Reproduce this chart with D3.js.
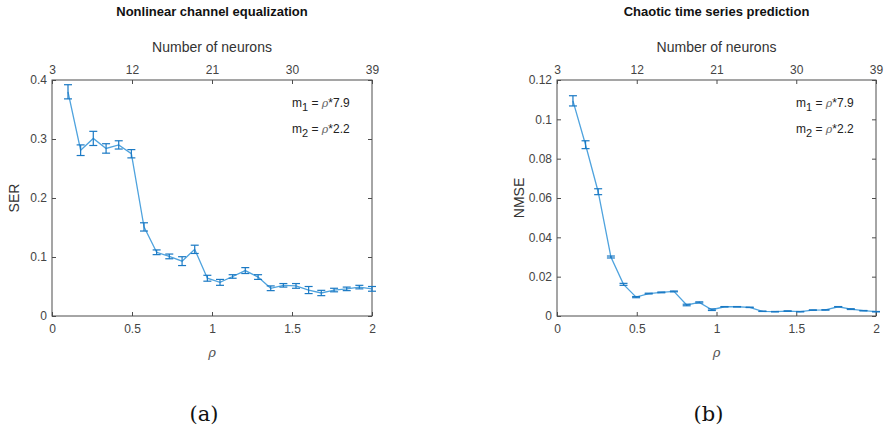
<!DOCTYPE html>
<html>
<head>
<meta charset="utf-8">
<script src="https://cdn.jsdelivr.net/npm/d3@7"></script>
<style>
  html, body { margin: 0; padding: 0; background: #fff; }
  svg { display: block; }
</style>
</head>
<body>
<svg id="fig" width="886" height="435" font-family="Liberation Sans, Arial, sans-serif"></svg>
<script>
// Reservoir size parameter rho (shared by both experiments)
const rho = [0.1, 0.179, 0.258, 0.338, 0.417, 0.496, 0.575, 0.654, 0.733, 0.813,
             0.892, 0.971, 1.05, 1.129, 1.208, 1.288, 1.367, 1.446, 1.525, 1.604,
             1.683, 1.763, 1.842, 1.921, 2.0];

// (a) Nonlinear channel equalization: symbol error rate, mean and error half-width
const ser    = [0.380, 0.281, 0.301, 0.284, 0.290, 0.275, 0.151, 0.108, 0.101, 0.093,
                0.113, 0.064, 0.057, 0.067, 0.077, 0.066, 0.047, 0.052, 0.051, 0.044,
                0.039, 0.044, 0.046, 0.049, 0.046];
const serErr = [0.012, 0.009, 0.012, 0.008, 0.007, 0.007, 0.007, 0.004, 0.004, 0.0075,
                0.007, 0.005, 0.005, 0.003, 0.005, 0.004, 0.004, 0.003, 0.004, 0.006,
                0.0045, 0.003, 0.003, 0.003, 0.004];

// (b) Chaotic time series prediction: normalized mean squared error
const nmse    = [0.1094, 0.0871, 0.0632, 0.0300, 0.0161, 0.0096, 0.0114, 0.0120, 0.0125, 0.0056,
                 0.0069, 0.0032, 0.0047, 0.0047, 0.0044, 0.0024, 0.0022, 0.0025, 0.0022, 0.0030,
                 0.0031, 0.0047, 0.0035, 0.0027, 0.0022];
const nmseErr = [0.0026, 0.0020, 0.0015, 0.0005, 0.0005, 0.0003, 0.0002, 0.0002, 0.0002, 0.0004,
                 0.0003, 0.0004, 0.0001, 0.0001, 0.0001, 0.0001, 0.0001, 0.0001, 0.0001, 0.0001,
                 0.0001, 0.0001, 0.0002, 0.0001, 0.0001];

// Axis ticks
const rhoTicks    = [0, 0.5, 1, 1.5, 2];
const neuronTicks = [3, 12, 21, 30, 39];
const serTicks    = [0, 0.1, 0.2, 0.3, 0.4];
const nmseTicks   = [0, 0.02, 0.04, 0.06, 0.08, 0.1, 0.12];

const svg = d3.select("#fig");
const FONT = "Liberation Sans, Arial, sans-serif";
const AXIS = "#4d4d4d", LABEL = "#444", LINE = "#4fa3de", BAR = "#1a79c4";

function panel(opt) {
  const { left, right, top, bottom, y, yErr, yMax, yTicks, yLabel, title, tag } = opt;
  const g = svg.append("g");
  const x = d3.scaleLinear().domain([0, 2]).range([left, right]);
  const xn = d3.scaleLinear().domain([3, 39]).range([left, right]);
  const ys = d3.scaleLinear().domain([0, yMax]).range([bottom, top]);
  const tl = 4;

  const style = sel => {
    sel.attr("font-family", FONT).attr("font-size", 12);
    sel.select(".domain").remove();
    sel.selectAll(".tick line").attr("stroke", AXIS);
    sel.selectAll(".tick text").attr("fill", LABEL);
  };

  // bottom rho axis, ticks pointing inward
  g.append("g").attr("transform", `translate(0,${bottom})`)
    .call(d3.axisBottom(x).tickValues(rhoTicks).tickFormat(d3.format("")).tickSizeInner(-tl).tickSizeOuter(0).tickPadding(8))
    .call(style);
  // top neuron-count axis
  g.append("g").attr("transform", `translate(0,${top})`)
    .call(d3.axisTop(xn).tickValues(neuronTicks).tickSizeInner(-tl).tickSizeOuter(0).tickPadding(6))
    .call(style);
  // left value axis
  g.append("g").attr("transform", `translate(${left},0)`)
    .call(d3.axisLeft(ys).tickValues(yTicks).tickFormat(d3.format("")).tickSizeInner(-tl).tickSizeOuter(0).tickPadding(5))
    .call(style);
  // right mirror ticks
  g.append("g").attr("transform", `translate(${right},0)`)
    .call(d3.axisRight(ys).tickValues(yTicks).tickFormat("").tickSizeInner(-tl).tickSizeOuter(0))
    .call(style);

  // frame
  g.append("rect").attr("x", left).attr("y", top).attr("width", right - left).attr("height", bottom - top)
    .attr("fill", "none").attr("stroke", AXIS).attr("stroke-width", 1);

  // data line
  const pts = rho.map((r, i) => ({ r, v: y[i], e: yErr[i] }));
  g.append("path").datum(pts)
    .attr("fill", "none").attr("stroke", LINE).attr("stroke-width", 1.3)
    .attr("d", d3.line().x(d => x(d.r)).y(d => ys(d.v)));

  // error bars
  const cap = 4;
  const eb = g.append("g").attr("stroke", BAR).attr("stroke-width", 1.2).attr("fill", "none");
  pts.forEach(d => {
    const px = x(d.r), y0 = ys(d.v - d.e), y1 = ys(d.v + d.e);
    eb.append("line").attr("x1", px).attr("x2", px).attr("y1", y0).attr("y2", y1);
    eb.append("line").attr("x1", px - cap).attr("x2", px + cap).attr("y1", y0).attr("y2", y0);
    eb.append("line").attr("x1", px - cap).attr("x2", px + cap).attr("y1", y1).attr("y2", y1);
  });

  const cx = (left + right) / 2;
  // titles and labels
  g.append("text").attr("x", cx).attr("y", 16).attr("text-anchor", "middle")
    .style("font-size", "13px").style("font-weight", "bold").attr("fill", "#111").text(title);
  g.append("text").attr("x", cx).attr("y", 52).attr("text-anchor", "middle")
    .style("font-size", "14px").attr("fill", "#333").text("Number of neurons");
  g.append("text").attr("x", cx).attr("y", 357).attr("text-anchor", "middle")
    .style("font-size", "13px").style("font-style", "italic").style("font-family", "DejaVu Serif, serif")
    .attr("fill", "#555").text("ρ");
  g.append("text").attr("transform", `translate(${left - 33},${(top + bottom) / 2}) rotate(-90)`)
    .attr("text-anchor", "middle").style("font-size", "14px").attr("fill", "#333").text(yLabel);

  // annotation of the m1 / m2 scaling
  const ann = [["1", "7.9", 107], ["2", "2.2", 133]];
  ann.forEach(([s, k, by]) => {
    const t = g.append("text").attr("x", right - 80).attr("y", by).style("font-size", "12px").attr("fill", "#222");
    t.append("tspan").text("m");
    t.append("tspan").attr("dy", 4).style("font-size", "11px").text(s);
    t.append("tspan").attr("dy", -4).text(" = ");
    t.append("tspan").style("font-style", "italic").style("font-family", "DejaVu Serif, serif").attr("fill", "#666").style("font-size", "11px").text("ρ");
    t.append("tspan").text("*" + k);
  });

  // panel tag
  g.append("text").attr("x", cx - 8).attr("y", 421).attr("text-anchor", "middle")
    .style("font-family", "DejaVu Serif, Liberation Serif, serif").style("font-size", "21px")
    .attr("fill", "#111").text(tag);
}

panel({ left: 52, right: 372, top: 80, bottom: 316, y: ser, yErr: serErr, yMax: 0.4,
        yTicks: serTicks, yLabel: "SER", title: "Nonlinear channel equalization", tag: "(a)" });
panel({ left: 557, right: 876, top: 80, bottom: 316, y: nmse, yErr: nmseErr, yMax: 0.12,
        yTicks: nmseTicks, yLabel: "NMSE", title: "Chaotic time series prediction", tag: "(b)" });
</script>
</body>
</html>
